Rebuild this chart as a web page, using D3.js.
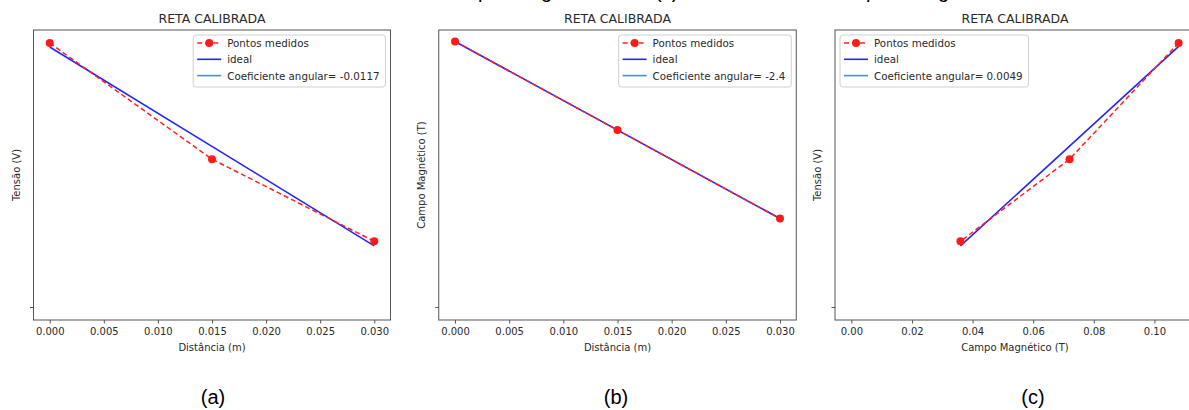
<!DOCTYPE html>
<html>
<head>
<meta charset="utf-8">
<script src="https://cdn.jsdelivr.net/npm/d3@7"></script>
<style>
  body { margin: 0; background: #fff; }
  svg { display: block; }
</style>
</head>
<body>
<div id="chart"></div>
<script>
// data
const distancia = [0.000, 0.015, 0.030];          // m
const campo = [0.108, 0.072, 0.036];              // T, measured at each distance
const tensao = [0.000466, 0.000261, 0.000116];    // V, measured at each distance
const idealA = [[0.000, 0.000459], [0.030, 0.000108]];   // V vs m
const idealB = [[0.000, 0.108], [0.030, 0.036]];         // T vs m
const idealC = [[0.036, 0.000108], [0.108, 0.000460]];   // V vs T
const coefA = "-0.0117", coefB = "-2.4", coefC = "0.0049";
const ticksDist = [0, 0.005, 0.010, 0.015, 0.020, 0.025, 0.030];
const ticksCampo = [0, 0.02, 0.04, 0.06, 0.08, 0.10];
const domDist = [-0.0015, 0.0315];
const domCampoX = [-0.0054, 0.1134];
const domTensao = [-0.0000229, 0.000489];
const domCampoY = [-0.00529, 0.1127];

const W = 1189, H = 410;
const svg = d3.select('#chart').append('svg')
    .attr('width', W).attr('height', H);

const font = "DejaVu Sans";
const ink = "#2a2a2a";

// bits of the caption line above, cut off by the page edge
const cut = [["p", 478], ["g", 541], ["(c)", 655], ["p", 866], ["g", 938]];
svg.selectAll('text.cut')
    .data(cut)
    .join('text')
    .attr('class', 'cut')
    .attr('x', d => d[1])
    .attr('y', -2)
    .attr('font-family', 'Liberation Sans')
    .attr('font-size', 20)
    .attr('fill', '#000')
    .text(d => d[0]);

function panel(cfg) {
    const g = svg.append('g');
    const x = d3.scaleLinear().domain(cfg.xDom).range([cfg.left, cfg.right]);
    const y = d3.scaleLinear().domain(cfg.yDom).range([320, 30]);

    // lines
    g.append('path')
        .datum(cfg.ideal)
        .attr('fill', 'none')
        .attr('stroke', '#2424ff')
        .attr('stroke-width', 1.6)
        .attr('d', d3.line().x(d => x(d[0])).y(d => y(d[1])));

    g.append('path')
        .datum(cfg.xs.map((v, i) => [v, cfg.ys[i]]))
        .attr('fill', 'none')
        .attr('stroke', '#ff2020')
        .attr('stroke-width', 1.5)
        .attr('stroke-dasharray', '5,3')
        .attr('d', d3.line().x(d => x(d[0])).y(d => y(d[1])));

    g.selectAll('circle')
        .data(cfg.xs.map((v, i) => [v, cfg.ys[i]]))
        .join('circle')
        .attr('cx', d => x(d[0]))
        .attr('cy', d => y(d[1]))
        .attr('r', 4)
        .attr('fill', '#ff1a1a');

    // frame
    g.append('rect')
        .attr('x', cfg.left).attr('y', 30)
        .attr('width', cfg.right - cfg.left).attr('height', 290)
        .attr('fill', 'none')
        .attr('stroke', '#555')
        .attr('stroke-width', 1);

    // axes
    const xAxis = g.append('g')
        .attr('transform', 'translate(0,320)')
        .call(d3.axisBottom(x).tickValues(cfg.xTicks).tickSize(3.5).tickPadding(4)
            .tickFormat(cfg.xFmt));
    xAxis.select('.domain').remove();
    xAxis.selectAll('line').attr('stroke', '#555');
    xAxis.selectAll('text')
        .attr('font-family', font).attr('font-size', 10).attr('fill', ink);

    const yAxis = g.append('g')
        .attr('transform', `translate(${cfg.left},0)`)
        .call(d3.axisLeft(y).tickValues([0]).tickSize(3.5).tickFormat(''));
    yAxis.select('.domain').remove();
    yAxis.selectAll('line').attr('stroke', '#555');

    // texts
    g.append('text')
        .attr('x', (cfg.left + cfg.right) / 2).attr('y', 23)
        .attr('text-anchor', 'middle')
        .attr('font-family', font).attr('font-size', 12.5).attr('fill', ink)
        .text('RETA CALIBRADA');

    g.append('text')
        .attr('x', (cfg.left + cfg.right) / 2).attr('y', 351)
        .attr('text-anchor', 'middle')
        .attr('font-family', font).attr('font-size', 10).attr('fill', ink)
        .text(cfg.xLabel);

    g.append('text')
        .attr('transform', `translate(${cfg.yLabelX},175) rotate(-90)`)
        .attr('text-anchor', 'middle')
        .attr('dominant-baseline', 'central')
        .attr('font-family', font).attr('font-size', 10).attr('fill', ink)
        .text(cfg.yLabel);

    g.append('text')
        .attr('x', cfg.capX).attr('y', 404)
        .attr('text-anchor', 'middle')
        .attr('font-family', 'Liberation Sans').attr('font-size', 20).attr('fill', '#000')
        .text(cfg.cap);

    // legend
    const items = [
        {label: 'Pontos medidos', type: 'pts'},
        {label: 'ideal', type: 'ideal'},
        {label: 'Coeficiente angular= ' + cfg.coef, type: 'coef'}
    ];
    const leg = g.append('g');
    const box = leg.append('rect')
        .attr('fill', 'white').attr('fill-opacity', 0.85)
        .attr('stroke', '#d0d0d0').attr('rx', 3);
    const labels = leg.selectAll('text')
        .data(items)
        .join('text')
        .attr('y', (d, i) => 43 + i * 16.3)
        .attr('dominant-baseline', 'central')
        .attr('font-family', font).attr('font-size', 10.3).attr('fill', ink)
        .text(d => d.label);
    const tw = d3.max(labels.nodes(), n => n.getComputedTextLength());
    const bw = tw + 40;
    const bx = cfg.legendLeft ? cfg.left + 5 : cfg.right - 5 - bw;
    box.attr('x', bx).attr('y', 35).attr('width', bw).attr('height', 52);
    labels.attr('x', bx + 34);
    items.forEach((d, i) => {
        const yy = 43 + i * 16.3;
        const l = leg.append('line')
            .attr('x1', bx + 4).attr('x2', bx + 28)
            .attr('y1', yy).attr('y2', yy)
            .attr('stroke-width', 1.6);
        if (d.type === 'pts') {
            l.attr('stroke', '#ff2020').attr('stroke-dasharray', '5,3');
            leg.append('circle').attr('cx', bx + 16).attr('cy', yy).attr('r', 4).attr('fill', '#ff1a1a');
        } else if (d.type === 'ideal') {
            l.attr('stroke', '#2424ff');
        } else {
            l.attr('stroke', '#4a90c8');
        }
    });
}

const fmt3 = d3.format('.3f'), fmt2 = d3.format('.2f');

panel({left: 33.5, right: 390.5, xDom: domDist, yDom: domTensao,
    xs: distancia, ys: tensao, ideal: idealA, coef: coefA, xTicks: ticksDist, xFmt: fmt3,
    xLabel: 'Distância (m)', yLabel: 'Tensão (V)', yLabelX: 16, cap: '(a)', capX: 213});
panel({left: 438.75, right: 796.25, xDom: domDist, yDom: domCampoY,
    xs: distancia, ys: campo, ideal: idealB, coef: coefB, xTicks: ticksDist, xFmt: fmt3,
    xLabel: 'Distância (m)', yLabel: 'Campo Magnético (T)', yLabelX: 421, cap: '(b)', capX: 616});
panel({left: 835, right: 1195, xDom: domCampoX, yDom: domTensao,
    xs: campo, ys: tensao, ideal: idealC, coef: coefC, xTicks: ticksCampo, xFmt: fmt2,
    xLabel: 'Campo Magnético (T)', yLabel: 'Tensão (V)', yLabelX: 817, cap: '(c)', capX: 1033,
    legendLeft: true});
</script>
</body>
</html>
